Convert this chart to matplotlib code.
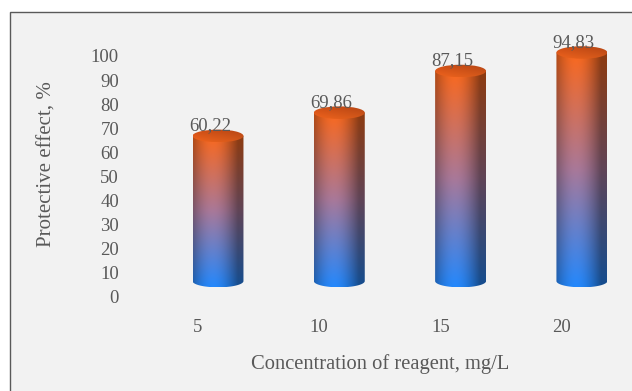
import numpy as np
import matplotlib
matplotlib.use("Agg")
import matplotlib.pyplot as plt
from matplotlib.path import Path
from matplotlib.patches import PathPatch, Ellipse, Rectangle

# data
concentrations = ['5', '10', '15', '20']
protective = [60.22, 69.86, 87.15, 94.83]
value_labels = ['60,22', '69,86', '87,15', '94,83']
y_ticks = list(range(0, 101, 10))

TXT = '#595959'
plt.rcParams['font.family'] = ['Liberation Serif', 'DejaVu Serif']

# pseudo-3d geometry (data units)
BASE = 6.6       # cylinders sit a bit above the back-wall zero
HALF_W = 0.21    # half width of a cylinder in category units
EH = 2.6         # half height of the ellipses

top_c = np.array([245, 102, 28]) / 255
mid_c = np.array([165, 118, 150]) / 255
bot_c = np.array([35, 133, 247]) / 255


def body_image(nv=200, nh=80):
    t = np.linspace(0, 1, nv)[:, None]
    col = np.where(t < 0.5,
                   top_c * (1 - t / 0.5) + mid_c * (t / 0.5),
                   mid_c * (1 - (t - 0.5) / 0.5) + bot_c * ((t - 0.5) / 0.5))
    u = np.linspace(0, 1, nh)
    theta = (u - 0.5) * np.pi
    shade = 0.58 + 0.44 * np.clip(np.cos(theta + 0.35), 0, None)
    img = col[:, None, :] * shade[None, :, None]
    return np.clip(img, 0, 1)


def cap_image(nv=40, nh=80):
    t = np.linspace(0, 1, nv)[:, None]
    back = np.array([205, 78, 22]) / 255
    front = np.array([240, 100, 30]) / 255
    col = back * (1 - t) + front * t
    u = np.linspace(0, 1, nh)
    shade = 1.0 - 0.12 * u
    return np.clip(col[:, None, :] * shade[None, :, None], 0, 1)


fig = plt.figure(figsize=(6.32, 3.91), dpi=100)
fig.patch.set_facecolor('white')
fig.add_artist(Rectangle((9.5 / 632, -0.01), 1.0, (391 - 11.5) / 391 + 0.01,
                         transform=fig.transFigure, facecolor='#f2f2f2',
                         edgecolor='#595959', lw=1.0, zorder=-5))

ax = fig.add_axes([0, 0, 1, 1])
ax.patch.set_alpha(0)
ax.axis('off')

body = body_image()
cap = cap_image()
for i, v in enumerate(protective):
    x0, x1 = i - HALF_W, i + HALF_W
    yb, yt = BASE, BASE + v
    ts = np.linspace(np.pi, 2 * np.pi, 40)
    verts = [(x0, yt), (x0, yb)]
    verts += [(i + HALF_W * np.cos(t), yb + EH * np.sin(t)) for t in ts]
    verts += [(x1, yt), (x0, yt)]
    codes = [Path.MOVETO] + [Path.LINETO] * (len(verts) - 2) + [Path.CLOSEPOLY]
    clip = PathPatch(Path(verts, codes), transform=ax.transData,
                     facecolor='none', edgecolor='none')
    ax.add_patch(clip)
    im = ax.imshow(body, extent=[x0, x1, yb - EH, yt], aspect='auto',
                   interpolation='bilinear', zorder=2)
    im.set_clip_path(clip)

    ell = Ellipse((i, yt), 2 * HALF_W, 2 * EH, transform=ax.transData,
                  facecolor='none', edgecolor='none')
    ax.add_patch(ell)
    imc = ax.imshow(cap, extent=[x0, x1, yt - EH, yt + EH], aspect='auto',
                    interpolation='bilinear', zorder=3)
    imc.set_clip_path(ell)

    ax.text(i - 0.066, yt + 5.0, value_labels[i], ha='center',
            va='center_baseline', fontsize=13.5, color=TXT)
    ax.text(i - 0.165, -12.0, concentrations[i], ha='center',
            va='center_baseline', fontsize=13.5, color=TXT)

for yv in y_ticks:
    ax.text(-0.816, yv, str(yv), ha='right', va='center_baseline',
            fontsize=13.5, color=TXT)

ax.text((47 - 218) / 121.3, (297 - 164) / 2.41, 'Protective effect, %',
        rotation=90, ha='center', va='center', fontsize=15, color=TXT)
ax.text((380 - 218) / 121.3, (297 - 364) / 2.41, 'Concentration of reagent, mg/L',
        ha='center', va='center', fontsize=14.8, color=TXT)

ax.set_xlim(-1.797, 3.413)
ax.set_ylim(-39.0, 123.2)

fig.savefig('out.png', dpi=100)
